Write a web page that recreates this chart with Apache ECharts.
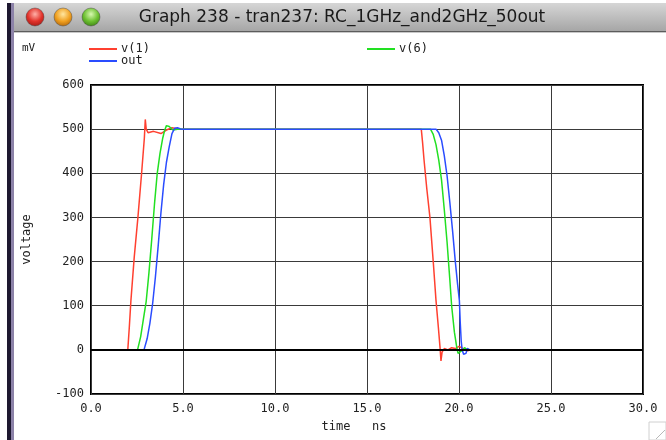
<!DOCTYPE html>
<html>
<head>
<meta charset="utf-8">
<script src="https://cdn.jsdelivr.net/npm/echarts@6/dist/echarts.min.js"></script>
<style>
  html, body { margin: 0; padding: 0; background: #fff; }
  #chart { width: 666px; height: 440px; }
</style>
</head>
<body>
<div id="chart"></div>
<script>
// time in ns, values in mV
const tV1 = [0, 2.0, 2.08, 2.17, 2.35, 2.55, 2.75, 2.9, 2.95, 3.0, 3.1, 3.4, 3.8, 4.1, 4.4, 4.8, 17.95, 18.02, 18.1, 18.25, 18.42, 18.6, 18.75, 18.88, 18.97, 19.02, 19.08, 19.2, 19.4, 19.6, 19.8, 20.0, 20.1, 20.25, 20.45, 20.7, 30];
const vV1 = [0, 0, 50, 112, 210, 300, 400, 480, 522, 500, 492, 495, 490, 498, 503, 500, 500, 470, 430, 365, 300, 200, 112, 50, 5, -25, -5, 3, 0, 5, 3, 8, 5, 2, -2, 0, 0];

const tV6 = [0, 2.53, 2.7, 2.85, 3.0, 3.15, 3.3, 3.45, 3.6, 3.75, 3.9, 4.0, 4.1, 4.25, 4.45, 4.7, 18.45, 18.6, 18.75, 18.9, 19.05, 19.2, 19.35, 19.5, 19.6, 19.75, 19.88, 19.95, 20.05, 20.15, 20.3, 20.45, 30];
const vV6 = [0, 0, 30, 70, 110, 175, 250, 330, 400, 445, 480, 497, 508, 506, 498, 500, 500, 488, 465, 430, 385, 318, 245, 160, 100, 40, 5, -8, -10, -2, 5, 0, 0];

const tOut = [0, 2.88, 3.05, 3.2, 3.35, 3.5, 3.65, 3.8, 3.95, 4.1, 4.25, 4.4, 4.55, 4.7, 4.9, 18.75, 18.9, 19.05, 19.2, 19.35, 19.5, 19.65, 19.8, 19.92, 20.02, 20.07, 20.12, 20.17, 20.25, 20.38, 20.45, 20.6, 30];
const vOut = [0, 0, 25, 60, 105, 165, 235, 310, 375, 425, 460, 490, 502, 503, 500, 500, 492, 475, 440, 395, 335, 270, 200, 150, 112, 60, 20, 0, -10, -8, 3, 0, 0];

const seriesNames = ['v(1)', 'v(6)', 'out'];
const seriesColors = ['#ff4030', '#22e022', '#2a4cff'];
const xTicks = [0, 5, 10, 15, 20, 25, 30];
const yTicks = [-100, 0, 100, 200, 300, 400, 500, 600];

const zip = (t, v) => t.map((x, i) => [x, v[i]]);
const seriesData = [zip(tV1, vV1), zip(tV6, vV6), zip(tOut, vOut)];

const mono = 'DejaVu Sans Mono';
const chart = echarts.init(document.getElementById('chart'), null, { renderer: 'canvas' });

const lights = [
  { x: 35, c0: '#ffb0a8', c1: '#e2322a', c2: '#9a1a14' },
  { x: 63, c0: '#ffe6a0', c1: '#f0a020', c2: '#a8600c' },
  { x: 91, c0: '#d8f8b0', c1: '#6cc030', c2: '#3a7a14' },
];

const option = {
  backgroundColor: '#ffffff',
  animation: false,
  grid: {
    left: 91, right: 23, top: 85, bottom: 46,
    show: true, borderColor: '#000', borderWidth: 2,
    containLabel: false, outerBoundsMode: 'none',
  },
  legend: [
    { data: ['v(1)'], left: 89, top: 43 },
    { data: ['out'], left: 89, top: 55 },
    { data: ['v(6)'], left: 367, top: 43 },
  ].map((l) => Object.assign(l, {
    icon: 'rect', itemWidth: 28, itemHeight: 2, itemGap: 4, padding: 0,
    selectedMode: false,
    textStyle: { fontFamily: mono, fontSize: 12, color: '#222', padding: [0, 0, 0, -1] },
  })),
  xAxis: {
    type: 'value', min: 0, max: 30, interval: 5,
    name: 'time   ns', nameLocation: 'middle', nameGap: 27,
    nameTextStyle: { fontFamily: mono, fontSize: 12, color: '#222', padding: [0, 26, 0, 0] },
    axisLine: { show: false }, axisTick: { show: false },
    axisLabel: { fontFamily: mono, fontSize: 12, color: '#222', margin: 9,
      formatter: (v) => xTicks.includes(v) ? v.toFixed(1) : '' },
    splitLine: { show: true, lineStyle: { color: '#3a3a3a', width: 1 } },
  },
  yAxis: {
    type: 'value', min: -100, max: 600, interval: 100,
    name: 'voltage', nameLocation: 'middle', nameGap: 58, nameRotate: 90,
    nameTextStyle: { fontFamily: mono, fontSize: 12, color: '#222' },
    axisLine: { show: false }, axisTick: { show: false },
    axisLabel: { fontFamily: mono, fontSize: 12, color: '#222', margin: 7,
      formatter: (v) => yTicks.includes(v) ? String(v) : '' },
    splitLine: { show: true, lineStyle: { color: '#3a3a3a', width: 1 } },
  },
  series: seriesNames.map((name, i) => ({
    name,
    type: 'line',
    data: seriesData[i],
    showSymbol: false,
    symbol: 'none',
    color: seriesColors[i],
    lineStyle: { color: seriesColors[i], width: 1.5 },
    markLine: i === 0 ? {
      silent: true, symbol: 'none', label: { show: false },
      lineStyle: { color: '#000', width: 2, type: 'solid' },
      data: [{ yAxis: 0 }],
    } : undefined,
  })),
  graphic: [
    // window edge on the left
    { type: 'rect', shape: { x: 7, y: 3, width: 4, height: 437 }, style: { fill: '#1e1830' }, silent: true },
    { type: 'rect', shape: { x: 11, y: 3, width: 3, height: 437 }, style: { fill: '#8c82a8' }, silent: true },
    // title bar
    {
      type: 'rect', shape: { x: 14, y: 3, width: 652, height: 28 },
      style: { fill: new echarts.graphic.LinearGradient(0, 0, 0, 1, [
        { offset: 0, color: '#d6d6d6' }, { offset: 1, color: '#a6a6a6' }]) },
      silent: true,
    },
    { type: 'rect', shape: { x: 14, y: 31, width: 652, height: 1 }, style: { fill: '#5c5c5c' }, silent: true },
    { type: 'rect', shape: { x: 14, y: 32, width: 652, height: 1 }, style: { fill: '#c8c8c8' }, silent: true },
    ...lights.map((l) => ({
      type: 'circle', shape: { cx: l.x, cy: 17, r: 9 },
      style: {
        fill: new echarts.graphic.RadialGradient(0.5, 0.35, 0.7, [
          { offset: 0, color: l.c0 }, { offset: 0.55, color: l.c1 }, { offset: 1, color: l.c2 }]),
        stroke: 'rgba(60,60,60,0.5)', lineWidth: 0.8,
      },
      silent: true,
    })),
    {
      type: 'text', x: 342, y: 18,
      style: { text: 'Graph 238 - tran237: RC_1GHz_and2GHz_50out', fontFamily: 'DejaVu Sans', fontSize: 17,
        fill: '#1a1a1a', align: 'center', verticalAlign: 'middle' },
      silent: true,
    },
    {
      type: 'text', x: 22, y: 48,
      style: { text: 'mV', fontFamily: mono, fontSize: 11, fill: '#222', verticalAlign: 'middle' },
      silent: true,
    },
    // resize grip
    { type: 'rect', shape: { x: 649, y: 422, width: 17, height: 18 }, style: { fill: '#fff', stroke: '#d0d0d0', lineWidth: 1 }, silent: true },
    { type: 'line', shape: { x1: 656, y1: 439, x2: 665, y2: 430 }, style: { stroke: '#b8b8b8', lineWidth: 1 }, silent: true },
  ],
};

chart.setOption(option);
</script>
</body>
</html>
